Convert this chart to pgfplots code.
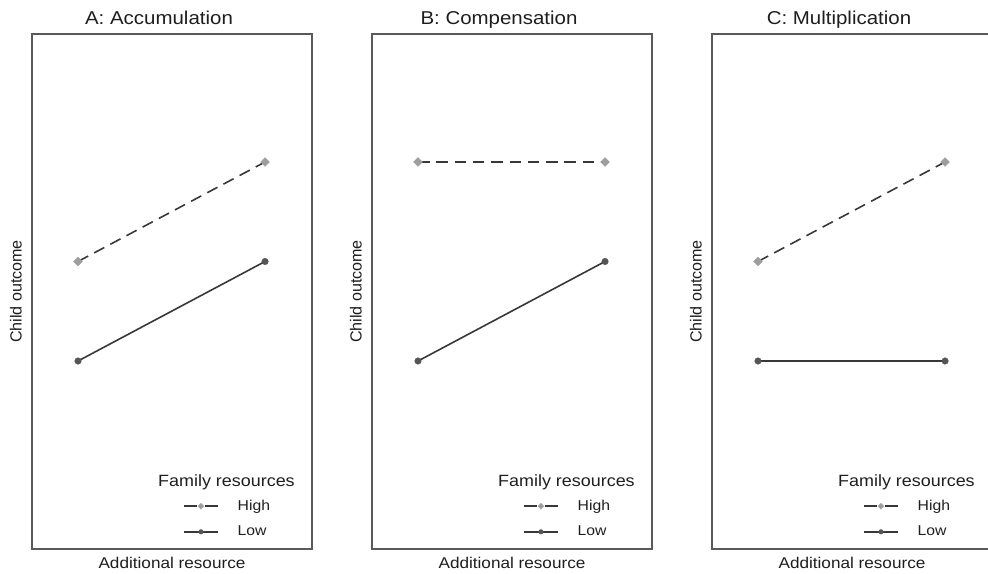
\documentclass[border=0pt]{standalone}
\usepackage{pgfplots}
\pgfplotsset{compat=1.18}
\usepackage{fontspec}
\setmainfont{Liberation Sans}[FakeStretch=1.1]
\newfontfamily\plainfont{Liberation Sans}
\definecolor{framegray}{HTML}{5A5A5A}
\definecolor{highmark}{HTML}{9E9E9E}
\definecolor{lowmark}{HTML}{555555}
\definecolor{linecol}{HTML}{383838}
\definecolor{txt}{HTML}{1E1E1E}
\newcommand\titlefont{\fontsize{18.6}{20}\selectfont\color{txt}}
\newcommand\axfont{\fontsize{15.6}{17}\selectfont\color{txt}}
\newcommand\yfont{\plainfont\fontsize{16.1}{17}\selectfont\color{txt}}
\newcommand\legtitlefont{\fontsize{16.3}{18}\selectfont\color{txt}}
\newcommand\legfont{\fontsize{14.3}{16}\selectfont\color{txt}}
\pgfplotsset{
  panel/.style={
    width=280pt, height=515pt, scale only axis,
    xmin=-0.246, xmax=1.251, ymin=-0.889, ymax=4.286,
    xtick=\empty, ytick=\empty,
    axis line style={draw=framegray, line width=1.5pt},
    clip=false,
    every axis title shift=0pt,
    xlabel={Additional resource}, ylabel={Child outcome},
    xlabel style={at={(axis description cs:0.5,0)}, anchor=base, yshift=-19.5pt, font=\axfont},
    ylabel style={at={(axis description cs:0,0.5)}, anchor=base, yshift=10.5pt, font=\yfont},
    title style={at={(axis description cs:0.5,1)}, anchor=base, xshift=-13pt, yshift=9pt, font=\titlefont},
    legend style={at={(axis description cs:0.539,0.022)}, anchor=south west, draw=none, fill=none,
      inner sep=0pt, row sep=14pt, column sep=19pt, font=\legfont,
      nodes={inner sep=0pt}},
    legend cell align=left,
  },
  highstyle/.style={color=linecol, line width=1.6pt, dash pattern=on 11.5pt off 6.8pt,
    mark=square*, mark size=3.2pt, mark options={solid, rotate=45, draw=highmark, fill=highmark, line width=0.1pt},
    legend image code/.code={
      \draw[##1, dash pattern=on 13pt off 8pt] (0pt,0pt) -- (34pt,0pt);
      \draw[##1, mark size=2.2pt] plot coordinates {(17pt,0pt)};
    }},
  lowstyle/.style={color=linecol, line width=1.6pt, solid,
    mark=*, mark size=3.4pt, mark options={solid, draw=lowmark, fill=lowmark, line width=0.1pt},
    legend image code/.code={
      \draw[##1] (0pt,0pt) -- (34pt,0pt);
      \draw[##1, mark size=2.4pt] plot coordinates {(17pt,0pt)};
    }},
}
\begin{document}
\begin{tikzpicture}
\useasboundingbox (0,0) rectangle (988pt,573pt);
% Panel A
\begin{axis}[panel, at={(32pt,24pt)}, anchor=south west, title={A: Accumulation}]
\addplot[highstyle] coordinates {(0,2) (1,3)};
\addlegendentry{High}
\addplot[lowstyle] coordinates {(0,1) (1,2)};
\addlegendentry{Low}
\node[anchor=base east, font=\legtitlefont, inner sep=0pt] at (rel axis cs:0.939,0.1204) {Family resources};
\end{axis}
% Panel B
\begin{axis}[panel, at={(372pt,24pt)}, anchor=south west, title={B: Compensation}]
\addplot[highstyle] coordinates {(0,3) (1,3)};
\addlegendentry{High}
\addplot[lowstyle] coordinates {(0,1) (1,2)};
\addlegendentry{Low}
\node[anchor=base east, font=\legtitlefont, inner sep=0pt] at (rel axis cs:0.939,0.1204) {Family resources};
\end{axis}
% Panel C
\begin{axis}[panel, at={(712pt,24pt)}, anchor=south west, title={C: Multiplication}]
\addplot[highstyle] coordinates {(0,2) (1,3)};
\addlegendentry{High}
\addplot[lowstyle] coordinates {(0,1) (1,1)};
\addlegendentry{Low}
\node[anchor=base east, font=\legtitlefont, inner sep=0pt] at (rel axis cs:0.939,0.1204) {Family resources};
\end{axis}
\end{tikzpicture}
\end{document}
